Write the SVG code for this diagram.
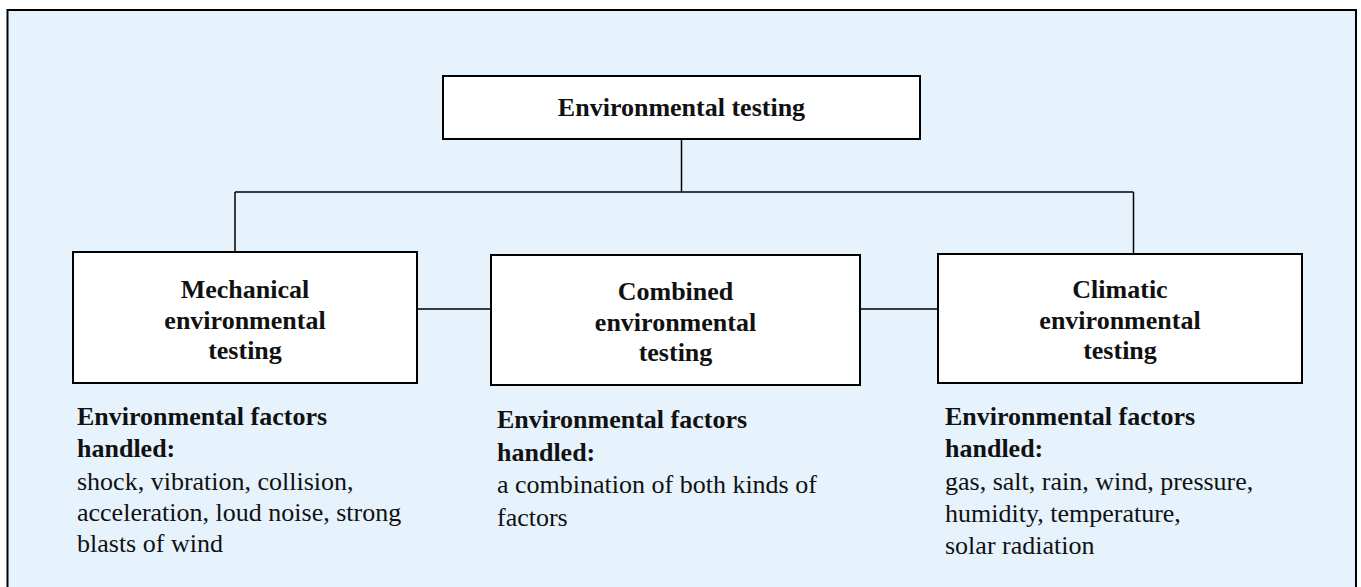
<svg xmlns="http://www.w3.org/2000/svg" width="1361" height="587" viewBox="0 0 1361 587">
<style>
.box{fill:#ffffff;stroke:#000;stroke-width:2}
.ln{fill:none;stroke:#000;stroke-width:1.5}
.t{font-family:"Liberation Serif","Times New Roman",serif;font-size:26px;fill:#111}
.b{font-weight:bold}
.c{text-anchor:middle}
</style>
<rect x="0" y="0" width="1361" height="587" fill="#ffffff"/>
<rect x="7.5" y="10" width="1348.5" height="590" fill="#e6f3fd" stroke="#000" stroke-width="2"/>
<g id="connectors">
<line class="ln" x1="681.5" y1="139" x2="681.5" y2="192"/>
<line class="ln" x1="235" y1="192" x2="1133.5" y2="192"/>
<line class="ln" x1="235" y1="192" x2="235" y2="252"/>
<line class="ln" x1="1133.5" y1="192" x2="1133.5" y2="254"/>
<line class="ln" x1="417" y1="309" x2="491" y2="309"/>
<line class="ln" x1="860" y1="309" x2="938" y2="309"/>
</g>
<g id="root">
<rect class="box" x="443" y="76" width="477" height="63"/>
<text class="t b c" x="681.5" y="116">Environmental testing</text>
</g>
<g id="mechanical">
<rect class="box" x="73" y="252" width="344" height="131"/>
<text class="t b c" x="245" y="298">Mechanical</text>
<text class="t b c" x="245" y="329">environmental</text>
<text class="t b c" x="245" y="359">testing</text>
</g>
<g id="combined">
<rect class="box" x="491" y="255" width="369" height="130"/>
<text class="t b c" x="675.5" y="300">Combined</text>
<text class="t b c" x="675.5" y="331">environmental</text>
<text class="t b c" x="675.5" y="361">testing</text>
</g>
<g id="climatic">
<rect class="box" x="938" y="254" width="364" height="129"/>
<text class="t b c" x="1120" y="298">Climatic</text>
<text class="t b c" x="1120" y="329">environmental</text>
<text class="t b c" x="1120" y="359">testing</text>
</g>
<g id="mechanical-factors">
<text class="t b" x="77" y="425">Environmental factors</text>
<text class="t b" x="77" y="457">handled:</text>
<text class="t" x="77" y="490">shock, vibration, collision,</text>
<text class="t" x="77" y="521">acceleration, loud noise, strong</text>
<text class="t" x="77" y="552">blasts of wind</text>
</g>
<g id="combined-factors">
<text class="t b" x="497" y="428">Environmental factors</text>
<text class="t b" x="497" y="461">handled:</text>
<text class="t" x="497" y="493">a combination of both kinds of</text>
<text class="t" x="497" y="526">factors</text>
</g>
<g id="climatic-factors">
<text class="t b" x="945" y="425">Environmental factors</text>
<text class="t b" x="945" y="457">handled:</text>
<text class="t" x="945" y="490">gas, salt, rain, wind, pressure,</text>
<text class="t" x="945" y="522">humidity, temperature,</text>
<text class="t" x="945" y="554">solar radiation</text>
</g>
</svg>
